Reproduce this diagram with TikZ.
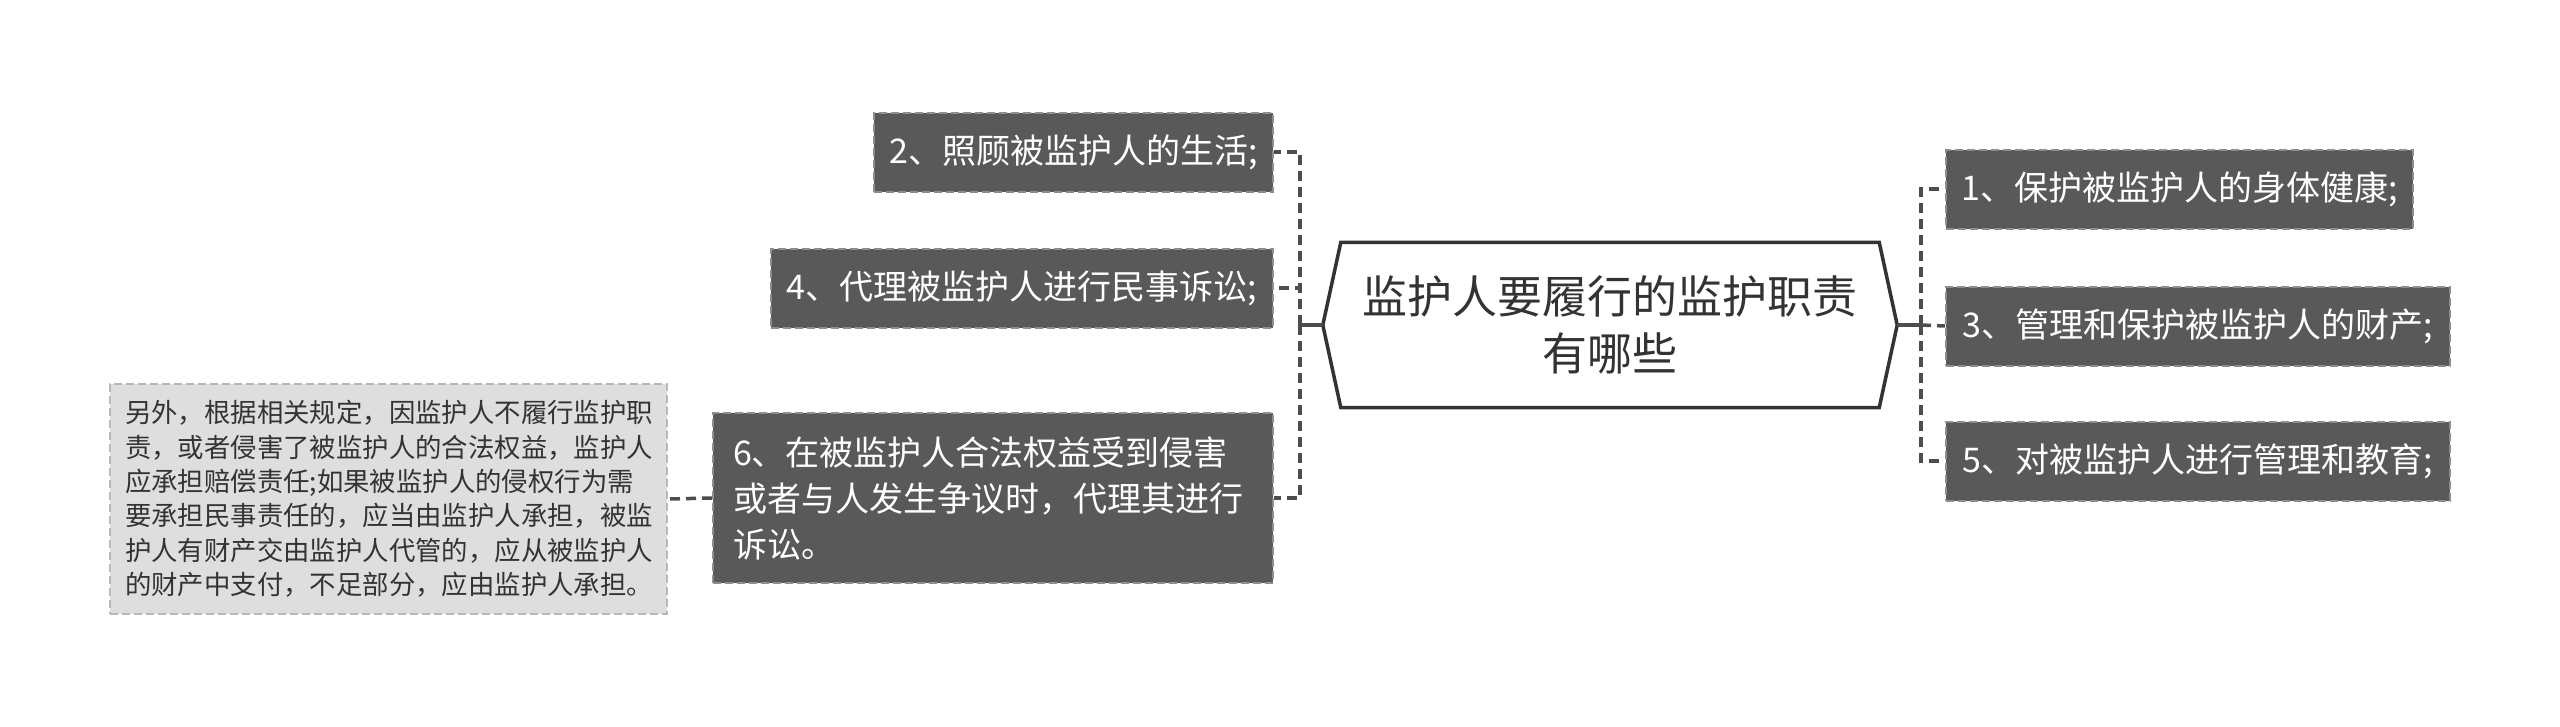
\documentclass[tikz,border=0pt]{standalone}
\usepackage{fontspec}
\setmainfont{Noto Sans CJK SC}
\definecolor{boxfill}{HTML}{595959}
\definecolor{boxline}{HTML}{8E8E8E}
\definecolor{notefill}{HTML}{DEDEDE}
\definecolor{noteline}{HTML}{B8B8B8}
\definecolor{linkc}{HTML}{4D4D4D}
\definecolor{txt}{HTML}{333333}
\begin{document}
\begin{tikzpicture}[x=1pt,y=-1pt,
  darkbox/.style={fill=boxfill, draw=boxline, dash pattern=on 8pt off 4pt, line width=2pt,
    text=white, inner sep=0pt, minimum height=79pt, font=\fontsize{34}{45}\selectfont},
  notebox/.style={fill=notefill, draw=noteline, dash pattern=on 8pt off 4pt, line width=2pt,
    text=txt, inner sep=0pt, minimum width=557pt, minimum height=230pt, align=left,
    text width=527pt, font=\fontsize{26.4}{34.4}\selectfont},
  rootbox/.style={inner sep=0pt, minimum width=574pt, minimum height=165pt, align=center,
    text=txt, font=\fontsize{45}{57}\selectfont},
  rootline/.style={draw=txt, line width=3.5pt, line join=miter, fill=white},
  solidlink/.style={draw=linkc, line width=3.5pt},
  dashlink/.style={draw=linkc, line width=3.5pt, dash pattern=on 10pt off 6pt}
]
\fill[white] (0,0) rectangle (2560,726);
\useasboundingbox (0,0) rectangle (2560,726);

% root
\node[rootbox] (root) at (1610,325) {};
\path[rootline] ([xshift=18pt]root.north west) -- ([xshift=-18pt]root.north east) -- (root.east)
  -- ([xshift=-18pt]root.south east) -- ([xshift=18pt]root.south west) -- (root.west) -- cycle;
\node[rootbox] (roottext) at (1610,325) {监护人要履行的监护职责\\有哪些};

% right side
\node[darkbox, anchor=west, minimum width=467pt] (b1) at (1945,189) {1、保护被监护人的身体健康;};
\node[darkbox, anchor=west, minimum width=504pt] (b3) at (1945,326) {3、管理和保护被监护人的财产;};
\node[darkbox, anchor=west, minimum width=504pt] (b5) at (1945,461) {5、对被监护人进行管理和教育;};

% left side
\node[darkbox, anchor=east, minimum width=399pt] (b2) at (1274,152) {2、照顾被监护人的生活;};
\node[darkbox, anchor=east, minimum width=502pt] (b4) at (1274,288) {4、代理被监护人进行民事诉讼;};
\node[darkbox, anchor=east, minimum width=560pt, minimum height=170pt, align=left, text width=520pt,
  font=\fontsize{34}{46}\selectfont] (b6) at (1274,498)
  {6、在被监护人合法权益受到侵害\\或者与人发生争议时，代理其进行\\诉讼。};

\node[notebox, anchor=east] (note) at (668,499)
  {另外，根据相关规定，因监护人不履行监护职\\责，或者侵害了被监护人的合法权益，监护人\\应承担赔偿责任;如果被监护人的侵权行为需\\要承担民事责任的，应当由监护人承担，被监\\护人有财产交由监护人代管的，应从被监护人\\的财产中支付，不足部分，应由监护人承担。};

% connectors
\coordinate (rj) at (1921,325);
\coordinate (lj) at (1300,325);
\draw[solidlink] (root.east) -- (rj);
\draw[solidlink] (root.west) -- (lj);
\draw[dashlink] (rj) |- (b1.west);
\draw[dashlink] (rj) -- (b3.west);
\draw[dashlink] (rj) |- (b5.west);
\draw[dashlink] (lj) |- (b2.east);
\draw[dashlink] (lj) |- (b4.east);
\draw[dashlink] (lj) |- (b6.east);
\draw[dashlink] (b6.west) -- (note.east);
\end{tikzpicture}
\end{document}
